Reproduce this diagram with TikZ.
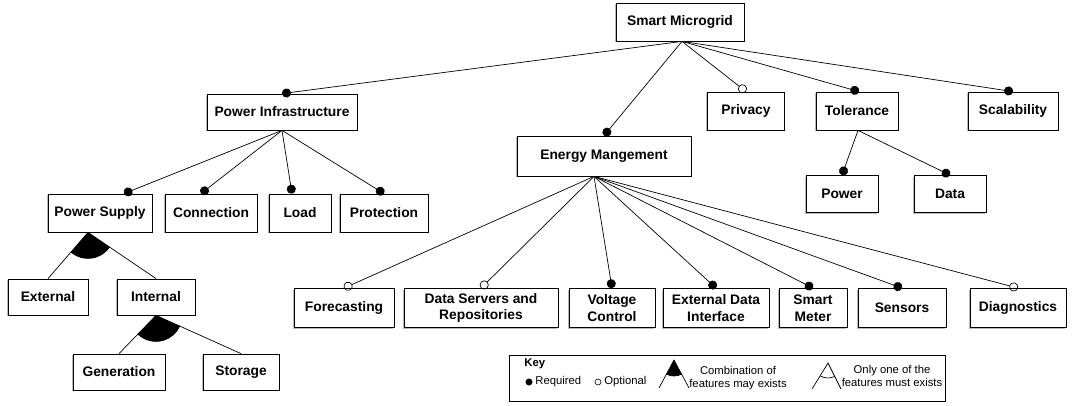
\documentclass[tikz,border=0pt]{standalone}
\usepackage{fontspec}
\setmainfont{Liberation Sans}
\usetikzlibrary{arrows.meta}
\usetikzlibrary{angles}
\usetikzlibrary{shadows}

\tikzset{
  feature/.style={draw, fill=white, line width=0.8pt, minimum height=38pt,
    inner sep=2pt, align=center, font=\fontsize{13.8}{16.5}\selectfont\bfseries,
    drop shadow={shadow xshift=-1.2pt, shadow yshift=-1.2pt, fill=black!55}},
  required/.style={-{Circle[length=9pt]}},
  optional/.style={-{Circle[open,length=9pt]}},
  keytext/.style={font=\fontsize{11.3}{13}\selectfont, inner sep=0pt},
}

\begin{document}
\begin{tikzpicture}[x=1pt, y=1pt, line width=0.7pt]
	\useasboundingbox (0,0) rectangle (1073,-405);

	% top level
	\node[feature, minimum width=128pt] (sm) at (680,-22) {Smart Microgrid};
	\node[feature, minimum width=150pt, minimum height=36pt] (pi) at (282,-112) {Power Infrastructure};
	\node[feature, minimum width=174pt, minimum height=40pt] (em) at (604,-156) {Energy Mangement};
	\node[feature, minimum width=77pt] (priv) at (746,-111) {Privacy};
	\node[feature, minimum width=82pt] (tol) at (857,-111) {Tolerance};
	\node[feature, minimum width=90pt] (scal) at (1013,-111) {Scalability};
	\node[feature, minimum width=72pt, minimum height=37pt] (pw) at (842,-194) {Power};
	\node[feature, minimum width=72pt, minimum height=37pt] (dat) at (950,-194) {Data};

	% power infrastructure
	\node[feature, minimum width=104pt] (ps) at (100,-213) {Power Supply};
	\node[feature, minimum width=92pt] (conn) at (211,-213) {Connection};
	\node[feature, minimum width=62pt] (load) at (300,-213) {Load};
	\node[feature, minimum width=88pt] (prot) at (384,-213) {Protection};
	\node[feature, minimum width=80pt, minimum height=36pt] (ext) at (48,-297) {External};
	\node[feature, minimum width=78pt, minimum height=36pt] (int) at (156,-297) {Internal};
	\node[feature, minimum width=92pt, minimum height=36pt] (gen) at (119,-372) {Generation};
	\node[feature, minimum width=76pt, minimum height=36pt] (sto) at (241,-372) {Storage};

	% energy management
	\node[feature, minimum width=100pt, minimum height=39pt] (fore) at (344,-308) {Forecasting};
	\node[feature, minimum width=154pt, minimum height=39pt] (dsr) at (481,-308) {Data Servers and\\Repositories};
	\node[feature, minimum width=86pt, minimum height=39pt] (vc) at (612,-308) {Voltage\\Control};
	\node[feature, minimum width=106pt, minimum height=39pt] (edi) at (716,-308) {External Data\\Interface};
	\node[feature, minimum width=68pt, minimum height=39pt] (smm) at (813,-308) {Smart\\Meter};
	\node[feature, minimum width=88pt, minimum height=39pt] (sen) at (902,-308) {Sensors};
	\node[feature, minimum width=96pt, minimum height=39pt] (diag) at (1018,-308) {Diagnostics};

	% connectors
	\coordinate (smB) at ([xshift=2pt]sm.south);
	\draw[required] (smB) -- (pi.north);
	\draw[required] (smB) -- (em.north);
	\draw[optional] (smB) -- (priv.north);
	\draw[required] (smB) -- ([xshift=2pt]tol.north);
	\draw[required] (smB) -- (scal.north);

	\coordinate (tolB) at ([xshift=1pt]tol.south);
	\draw[required] (tolB) -- (pw.north);
	\draw[required] (tolB) -- (dat.north);

	\draw[required] (pi.south) -- ([xshift=24pt]ps.north);
	\draw[required] (pi.south) -- ([xshift=-10pt]conn.north);
	\draw[required] (pi.south) -- ([xshift=-8pt]load.north);
	\draw[required] (pi.south) -- (prot.north);

	\coordinate (emB) at ([xshift=-10pt]em.south);
	\draw[optional] (emB) -- (fore.north);
	\draw[optional] (emB) -- (dsr.north);
	\draw[required] (emB) -- (vc.north);
	\draw[required] (emB) -- (edi.north);
	\draw[required] (emB) -- (smm.north);
	\draw[required] (emB) -- (sen.north);
	\draw[optional] (emB) -- (diag.north);

	% or-groups
	\coordinate (psB) at ([xshift=-12pt]ps.south);
	\coordinate (extT) at (ext.north);
	\coordinate (intT) at (int.north);
	\draw (psB) -- (extT) (psB) -- (intT);
	\pic[draw, fill=black, angle radius=26pt] {angle=extT--psB--intT};

	\coordinate (intB) at (int.south);
	\coordinate (genT) at (gen.north);
	\coordinate (stoT) at (sto.north);
	\draw (intB) -- (genT) (intB) -- (stoT);
	\pic[draw, fill=black, angle radius=26pt] {angle=genT--intB--stoT};

	% key
	\draw[line width=0.8pt] (509,-355) rectangle (945,-401);
	\node[keytext, font=\fontsize{11.3}{13}\selectfont\bfseries, anchor=west] (key) at (524,-364) {Key};
	\fill (529,-382) circle (3.5pt);
	\node[keytext, anchor=west] (kreq) at (535,-382) {Required};
	\draw[line width=0.6pt] (598,-382) circle (3pt);
	\node[keytext, anchor=west] (kopt) at (604,-382) {Optional};

	\coordinate (kfA) at (674,-360);
	\coordinate (kfL) at (659,-388);
	\coordinate (kfR) at (689,-388);
	\draw (kfL) -- (kfA) -- (kfR);
	\pic[draw, fill=black, angle radius=16pt] {angle=kfL--kfA--kfR};
	\node[keytext, align=center, font=\fontsize{11.3}{13.5}\selectfont] (kcomb) at (738,-378) {Combination of\\features may exists};

	\coordinate (koA) at (828,-363);
	\coordinate (koL) at (812,-389);
	\coordinate (koR) at (841,-389);
	\draw (koL) -- (koA) -- (koR);
	\pic[draw, angle radius=15pt] {angle=koL--koA--koR};
	\node[keytext, align=center, font=\fontsize{11.3}{13.5}\selectfont] (kone) at (892,-376) {Only one of the\\features must exists};
\end{tikzpicture}
\end{document}
